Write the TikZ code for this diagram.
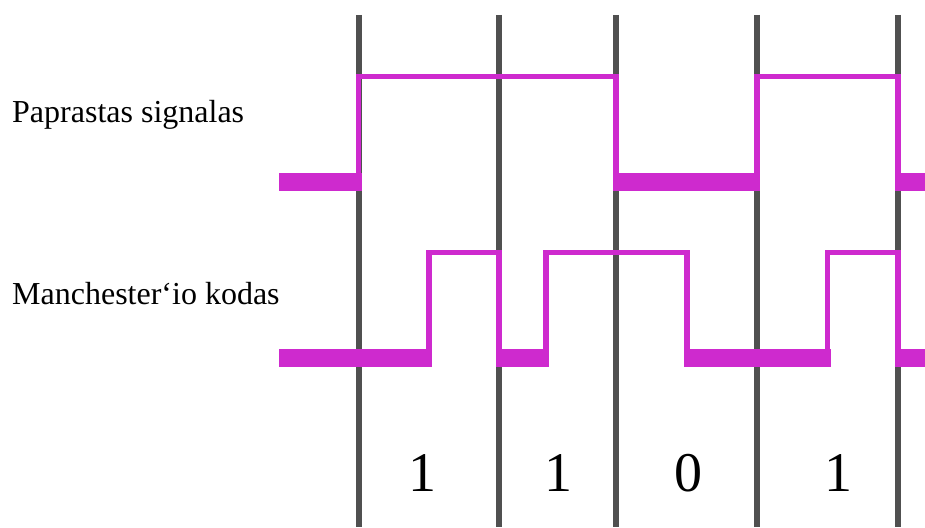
\documentclass[tikz,border=0pt]{standalone}
\usepackage{fontspec}
\setmainfont{Liberation Serif}
\definecolor{sig}{RGB}{206,42,206}
\definecolor{grid}{RGB}{80,80,80}
\tikzset{
  gridline/.style={draw=grid, line width=6pt},
  hiline/.style={draw=sig, line width=5.5pt, line join=miter, line cap=butt},
  lowbar/.style={fill=sig, draw=none},
  lbl/.style={anchor=base west, inner sep=0pt, font=\fontsize{32}{38}\selectfont},
  bit/.style={anchor=base, inner sep=0pt, font=\fontsize{56}{64}\selectfont}
}
\begin{document}
\begin{tikzpicture}[x=1pt, y=-1pt]
  \useasboundingbox[fill=white] (0,0) rectangle (925,527);

  % bit boundaries
  \foreach \xx in {358.5,499,616,757,898}
    \draw[gridline] (\xx,15) -- (\xx,527);

  % plain NRZ signal
  \draw[hiline] (279,182) -- (358.5,182) -- (358.5,76.5) -- (616,76.5) -- (616,182)
    -- (757,182) -- (757,76.5) -- (898,76.5) -- (898,182) -- (925,182);
  \fill[lowbar] (279,173) rectangle (361.5,191);
  \fill[lowbar] (613,173) rectangle (760,191);
  \fill[lowbar] (895,173) rectangle (925,191);

  % Manchester coded signal
  \draw[hiline] (279,358) -- (429,358) -- (429,252.5) -- (499,252.5) -- (499,358)
    -- (546,358) -- (546,252.5) -- (687,252.5) -- (687,358) -- (827.5,358)
    -- (827.5,252.5) -- (898,252.5) -- (898,358) -- (925,358);
  \fill[lowbar] (279,349) rectangle (432,367);
  \fill[lowbar] (496,349) rectangle (549,367);
  \fill[lowbar] (684,349) rectangle (830.5,367);
  \fill[lowbar] (895,349) rectangle (925,367);

  % labels
  \node[lbl] (plain) at (12,122) {Paprastas signalas};
  \node[lbl] (manch) at (12,304) {Manchester‘io kodas};

  % bit values
  \node[bit] (b1) at (422,491) {1};
  \node[bit] (b2) at (558,491) {1};
  \node[bit] (b3) at (688,491) {0};
  \node[bit] (b4) at (838,491) {1};
\end{tikzpicture}
\end{document}
